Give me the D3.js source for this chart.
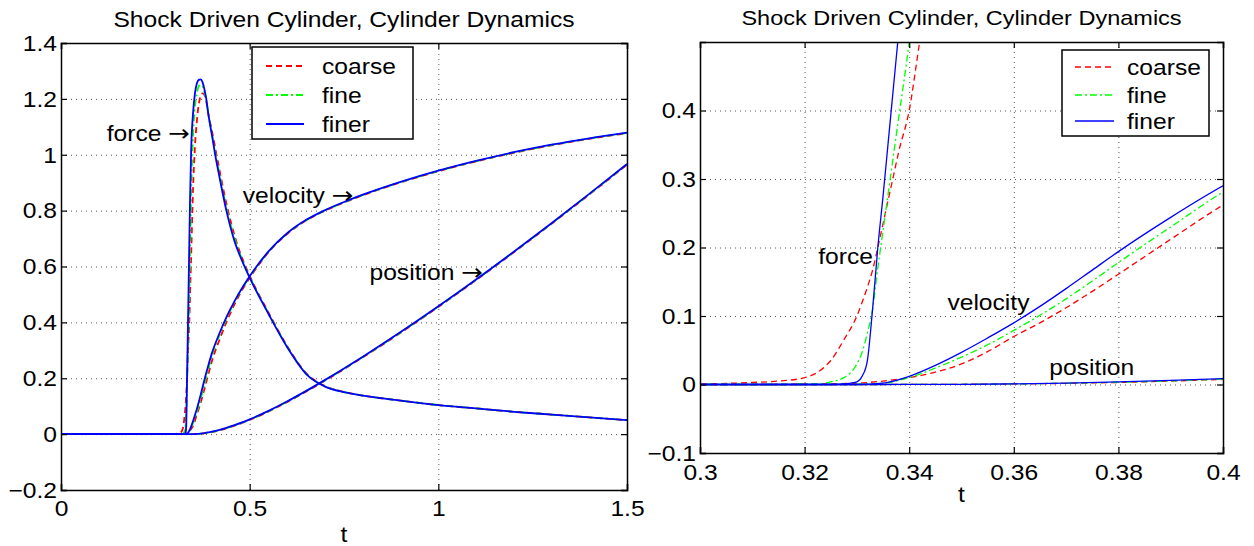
<!DOCTYPE html>
<html>
<head>
<meta charset="utf-8">
<script src="https://cdn.jsdelivr.net/npm/d3@7"></script>
<style>
  body { margin: 0; background: #fff; }
  text { font-family: "Liberation Sans", Arial, Helvetica, sans-serif; fill: #000; }
</style>
</head>
<body>
<script>
// ---- data ----
var tForce = [0, 0.30, 0.31, 0.315, 0.32, 0.3225, 0.325, 0.3275, 0.33, 0.331, 0.332, 0.333, 0.334, 0.335, 0.336, 0.337, 0.338, 0.34, 0.342, 0.345, 0.35, 0.355, 0.36, 0.365, 0.37, 0.375, 0.38, 0.385, 0.39, 0.40, 0.41, 0.42, 0.44, 0.46, 0.48, 0.50, 0.55, 0.60, 0.65, 0.70, 0.75, 0.80, 0.90, 1.0, 1.1, 1.2, 1.3, 1.4, 1.5];
var forceCoarse = [0, 0.001, 0.003, 0.005, 0.01, 0.018, 0.035, 0.065, 0.1, 0.12, 0.142, 0.167, 0.2, 0.235, 0.27, 0.305, 0.34, 0.4, 0.5, 0.64, 0.88, 1.03, 1.12, 1.18, 1.21, 1.22, 1.215, 1.19, 1.15, 1.085, 1.015, 0.945, 0.815, 0.71, 0.63, 0.567, 0.435, 0.314, 0.218, 0.172, 0.151, 0.138, 0.12, 0.104, 0.092, 0.08, 0.07, 0.06, 0.05];
var forceFine = [0, 0, 0, 0, 0.001, 0.001, 0.004, 0.01, 0.03, 0.047, 0.075, 0.11, 0.17, 0.225, 0.28, 0.335, 0.39, 0.5, 0.64, 0.86, 1.07, 1.17, 1.22, 1.245, 1.25, 1.245, 1.225, 1.195, 1.15, 1.075, 1.0, 0.93, 0.80, 0.70, 0.625, 0.563, 0.432, 0.312, 0.216, 0.171, 0.15, 0.138, 0.12, 0.104, 0.092, 0.08, 0.07, 0.06, 0.05];
var forceFiner = [0, 0, 0, 0, 0, 0, 0, 0.001, 0.004, 0.012, 0.035, 0.11, 0.2, 0.275, 0.355, 0.435, 0.515, 0.68, 0.84, 1.02, 1.15, 1.22, 1.255, 1.268, 1.27, 1.26, 1.235, 1.2, 1.15, 1.07, 0.99, 0.92, 0.79, 0.69, 0.62, 0.56, 0.43, 0.31, 0.215, 0.17, 0.15, 0.138, 0.12, 0.104, 0.092, 0.08, 0.07, 0.06, 0.05];

var tVel = [0, 0.30, 0.32, 0.33, 0.335, 0.34, 0.345, 0.35, 0.355, 0.36, 0.365, 0.37, 0.375, 0.38, 0.39, 0.40, 0.42, 0.44, 0.46, 0.48, 0.50, 0.55, 0.60, 0.65, 0.70, 0.75, 0.80, 0.90, 1.0, 1.1, 1.2, 1.3, 1.4, 1.5];
var velCoarse = [0, 0, 0.0005, 0.002, 0.005, 0.01, 0.018, 0.03, 0.048, 0.07, 0.09, 0.112, 0.136, 0.161, 0.212, 0.262, 0.338, 0.406, 0.465, 0.516, 0.559, 0.651, 0.717, 0.765, 0.800, 0.829, 0.855, 0.901, 0.941, 0.976, 1.007, 1.034, 1.057, 1.077];
var velFine = [0, 0, 0, 0.0005, 0.002, 0.01, 0.024, 0.04, 0.058, 0.079, 0.101, 0.125, 0.151, 0.178, 0.23, 0.281, 0.354, 0.418, 0.473, 0.521, 0.563, 0.653, 0.719, 0.766, 0.801, 0.830, 0.856, 0.902, 0.942, 0.977, 1.008, 1.035, 1.058, 1.078];
var velFiner = [0, 0, 0, 0, 0.002, 0.012, 0.028, 0.047, 0.068, 0.09, 0.114, 0.14, 0.167, 0.194, 0.244, 0.29, 0.361, 0.423, 0.476, 0.523, 0.565, 0.654, 0.72, 0.767, 0.802, 0.831, 0.857, 0.903, 0.943, 0.978, 1.009, 1.036, 1.059, 1.079];

var tPos = [0, 0.33, 0.34, 0.35, 0.36, 0.37, 0.38, 0.39, 0.40, 0.42, 0.44, 0.46, 0.48, 0.50, 0.55, 0.60, 0.65, 0.70, 0.75, 0.80, 0.90, 1.0, 1.1, 1.2, 1.3, 1.4, 1.5];
var posCoarse = [0, 0, 0.0001, 0.0003, 0.0008, 0.0017, 0.003, 0.005, 0.0074, 0.0135, 0.0213, 0.0301, 0.0399, 0.0507, 0.0811, 0.1154, 0.1526, 0.1918, 0.2327, 0.2749, 0.3629, 0.4552, 0.5512, 0.6506, 0.7528, 0.8576, 0.9645];
var posFine = [0, 0, 0.0001, 0.0003, 0.0009, 0.0019, 0.0033, 0.0054, 0.008, 0.0143, 0.0221, 0.031, 0.0409, 0.0518, 0.0823, 0.1166, 0.1538, 0.193, 0.2339, 0.2761, 0.3641, 0.4564, 0.5524, 0.6518, 0.754, 0.8588, 0.9657];
var posFiner = [0, 0, 0.0001, 0.0003, 0.001, 0.0021, 0.0038, 0.006, 0.0087, 0.0152, 0.0231, 0.0321, 0.042, 0.0529, 0.0834, 0.1177, 0.1549, 0.1941, 0.235, 0.2772, 0.3652, 0.4575, 0.5535, 0.6529, 0.7551, 0.8599, 0.9668];

var seriesNames = ["coarse", "fine", "finer"];
var titleText = "Shock Driven Cylinder, Cylinder Dynamics";

var leftXTicks = [0, 0.5, 1, 1.5];
var leftYTicks = [-0.2, 0, 0.2, 0.4, 0.6, 0.8, 1, 1.2, 1.4];
var rightXTicks = [0.3, 0.32, 0.34, 0.36, 0.38, 0.4];
var rightYTicks = [-0.1, 0, 0.1, 0.2, 0.3, 0.4];

var leftNotes = [
    {text: "force \u2192", t: 0.342, v: 1.077},
    {text: "velocity \u2192", t: 0.775, v: 0.855},
    {text: "position \u2192", t: 1.118, v: 0.58}
];
var rightNotes = [
    {text: "force", t: 0.3226, v: 0.187},
    {text: "velocity", t: 0.3473, v: 0.12},
    {text: "position", t: 0.3668, v: 0.025}
];

// ---- styles ----
var colors = {coarse: "#ff0000", fine: "#00ff00", finer: "#0000ff"};
var dashes = {coarse: "6,4", fine: "7,3,2,3", finer: null};
var stretch = 1.12;   // the original text is a little wide
var fmt = d3.format("~g");

var W = 1254, H = 546;
var svg = d3.select("body").append("svg")
    .attr("width", W)
    .attr("height", H);

// build the nine curves (3 quantities x 3 grids)
function makeSeries(t, vals) {
    return t.map(function(d, i) { return {t: d, v: vals[i]}; });
}
var curves = [
    {name: "coarse", pts: makeSeries(tForce, forceCoarse)},
    {name: "coarse", pts: makeSeries(tVel, velCoarse)},
    {name: "coarse", pts: makeSeries(tPos, posCoarse)},
    {name: "fine", pts: makeSeries(tForce, forceFine)},
    {name: "fine", pts: makeSeries(tVel, velFine)},
    {name: "fine", pts: makeSeries(tPos, posFine)},
    {name: "finer", pts: makeSeries(tForce, forceFiner)},
    {name: "finer", pts: makeSeries(tVel, velFiner)},
    {name: "finer", pts: makeSeries(tPos, posFiner)}
];

function addText(parent, px, py, str, anchor, size, dy) {
    var txt = parent.append("text")
        .attr("transform", "translate(" + px + "," + py + ") scale(" + stretch + ",1)")
        .attr("text-anchor", anchor)
        .attr("dy", dy || 0)
        .style("font-size", size + "px");
    // the arrow glyph is tiny in Liberation, take it from DejaVu
    str.split(/(\u2192)/).forEach(function(part) {
        if (!part) return;
        var sp = txt.append("tspan").text(part);
        if (part === "\u2192") sp.style("font-family", "'DejaVu Sans', sans-serif").style("font-size", (size * 1.05) + "px");
    });
    return txt;
}

function drawPanel(cfg) {
    var g = svg.append("g").attr("transform", "translate(" + cfg.left + "," + cfg.top + ")");
    var w = cfg.width, h = cfg.height;

    var x = d3.scaleLinear().domain(cfg.xDomain).range([0, w]);
    var y = d3.scaleLinear().domain(cfg.yDomain).range([h, 0]);

    // dotted grid
    g.append("g")
        .attr("class", "grid")
        .attr("transform", "translate(0," + h + ")")
        .call(d3.axisBottom(x).tickValues(cfg.xTicks).tickSize(-h).tickFormat(""))
        .call(function(s) { s.select(".domain").remove(); });
    g.append("g")
        .attr("class", "grid")
        .call(d3.axisLeft(y).tickValues(cfg.yTicks).tickSize(-w).tickFormat(""))
        .call(function(s) { s.select(".domain").remove(); });
    g.selectAll(".grid line")
        .attr("stroke", "#555")
        .attr("stroke-width", 1)
        .attr("stroke-dasharray", "1,4");

    // curves, clipped to the box
    var clipId = "clip" + cfg.id;
    g.append("clipPath").attr("id", clipId)
        .append("rect").attr("width", w).attr("height", h);

    var line = d3.line()
        .x(function(d) { return x(d.t); })
        .y(function(d) { return y(d.v); })
        .curve(d3.curveMonotoneX);

    g.append("g")
        .attr("clip-path", "url(#" + clipId + ")")
        .selectAll("path")
        .data(curves)
        .enter().append("path")
            .attr("d", function(d) { return line(d.pts); })
            .attr("fill", "none")
            .attr("stroke", function(d) { return colors[d.name]; })
            .attr("stroke-width", cfg.lineWidth)
            .attr("stroke-dasharray", function(d) { return dashes[d.name]; });

    // axes: labels on bottom/left, inward ticks on all four sides
    var ax = g.append("g")
        .attr("transform", "translate(0," + h + ")")
        .call(d3.axisBottom(x).tickValues(cfg.xTicks).tickSize(-6).tickPadding(10).tickFormat(fmt));
    ax.selectAll("text").attr("dy", "0.71em");
    var ay = g.append("g")
        .call(d3.axisLeft(y).tickValues(cfg.yTicks).tickSize(-6).tickPadding(10).tickFormat(fmt));
    g.append("g")
        .call(d3.axisTop(x).tickValues(cfg.xTicks).tickSize(-6).tickFormat(""));
    g.append("g")
        .attr("transform", "translate(" + w + ",0)")
        .call(d3.axisRight(y).tickValues(cfg.yTicks).tickSize(-6).tickFormat(""));

    g.selectAll(".domain").attr("stroke", "#000").attr("stroke-width", 1.5);
    g.selectAll(".tick line").filter(function() { return !this.parentNode.parentNode.classList.contains("grid"); })
        .attr("stroke", "#000").attr("stroke-width", 1.2);
    [ax, ay].forEach(function(a) {
        a.selectAll("text")
            .style("font-size", cfg.fontSize + "px")
            .style("font-family", "'Liberation Sans', Arial, sans-serif")
            .attr("fill", "#000")
            .attr("transform", "scale(" + stretch + ",1)");
    });
    ax.selectAll("text").attr("y", cfg.xLabelGap);
    ay.selectAll("text").attr("x", -4 / stretch).attr("dy", "0.33em");

    // title and axis label
    addText(g, w / 2, cfg.titleY, titleText, "middle", cfg.titleSize);
    addText(g, w / 2, h + cfg.tLabelY, "t", "middle", cfg.fontSize);

    // curve annotations
    cfg.notes.forEach(function(n) {
        addText(g, x(n.t), y(n.v), n.text, cfg.noteAnchor, cfg.fontSize, "0.35em");
    });

    // legend
    var lg = g.append("g").attr("transform", "translate(" + cfg.legend.x + "," + cfg.legend.y + ")");
    lg.append("rect")
        .attr("width", cfg.legend.w)
        .attr("height", cfg.legend.h)
        .attr("fill", "#fff")
        .attr("stroke", "#000")
        .attr("stroke-width", 1.5);
    seriesNames.forEach(function(name, i) {
        var yy = cfg.legend.rows[i];
        lg.append("line")
            .attr("x1", cfg.legend.lx1).attr("x2", cfg.legend.lx2)
            .attr("y1", yy).attr("y2", yy)
            .attr("stroke", colors[name])
            .attr("stroke-width", cfg.lineWidth)
            .attr("stroke-dasharray", dashes[name]);
        addText(lg, cfg.legend.tx, yy, name, "start", cfg.fontSize, "0.35em");
    });
}

// left panel: whole run
drawPanel({
    id: "L",
    left: 61, top: 43, width: 566, height: 447,
    xDomain: [0, 1.5], yDomain: [-0.2, 1.4],
    xTicks: leftXTicks, yTicks: leftYTicks,
    lineWidth: 1.8, fontSize: 22, titleSize: 22,
    titleY: -16, tLabelY: 52, xLabelGap: 10,
    notes: leftNotes, noteAnchor: "end",
    legend: {x: 191, y: 4, w: 161, h: 92, rows: [19, 48, 77], lx1: 14, lx2: 52, tx: 70}
});

// right panel: close-up of the onset
drawPanel({
    id: "R",
    left: 700, top: 42, width: 523, height: 411,
    xDomain: [0.3, 0.4], yDomain: [-0.1, 0.5],
    xTicks: rightXTicks, yTicks: rightYTicks,
    lineWidth: 1.3, fontSize: 22, titleSize: 21,
    titleY: -17, tLabelY: 49, xLabelGap: 11,
    notes: rightNotes, noteAnchor: "start",
    legend: {x: 362, y: 8, w: 147, h: 86, rows: [17, 45, 71], lx1: 13, lx2: 52, tx: 65}
});
</script>
</body>
</html>
